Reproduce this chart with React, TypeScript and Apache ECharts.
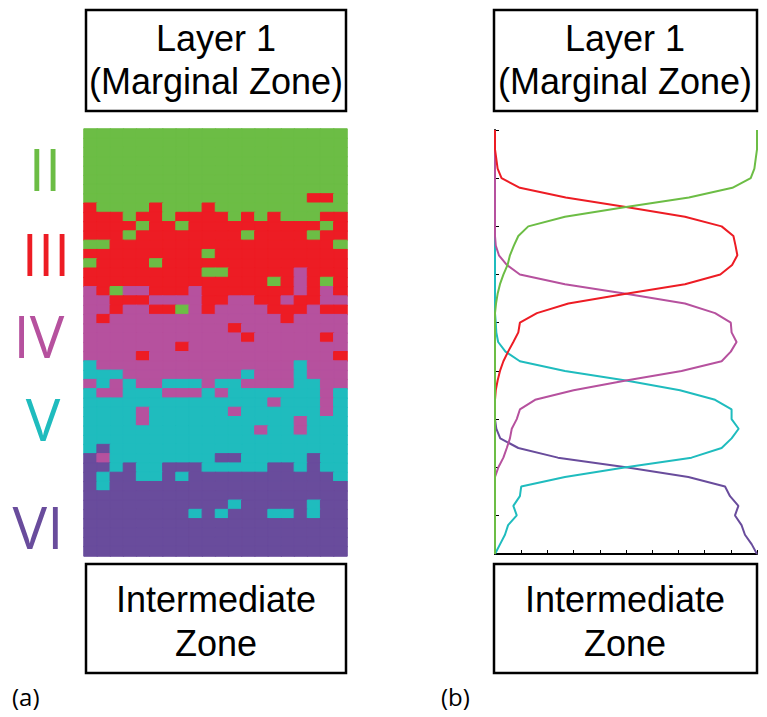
import React, { useEffect, useRef } from "react";
import * as echarts from "echarts";

// Layer classes: 2 = II, 3 = III, 4 = IV, 5 = V, 6 = VI
const layerNames = ["II", "III", "IV", "V", "VI"];
const layerValues = [2, 3, 4, 5, 6];
const layerColors = ["#6cbd45", "#ed1c24", "#b6519e", "#1fbcbe", "#694c9c"];

// Left panel grid (row 0 = top), 20 columns per row
const heatRows = [
  "22222222222222222222",
  "22222222222222222222",
  "22222222222222222222",
  "22222222222222222222",
  "22222222222222222222",
  "22222222222222222222",
  "22222222222222222222",
  "22222222222222222332",
  "32222322232222222222",
  "33323323333232322233",
  "33332332333333333323",
  "33323333333323333233",
  "22333333333333333332",
  "33333333323333333333",
  "23333233333333333333",
  "33333333322333334333",
  "33333333333333234323",
  "43244333433333334343",
  "44333444433443343344",
  "44344332434444333433",
  "43444444444444434444",
  "44444444444344444444",
  "44444444444434444434",
  "44444443444444444444",
  "44443444444444444443",
  "54444444444444445444",
  "55544444444454445444",
  "45454455545544445544",
  "54455544454555555545",
  "55555555555555455545",
  "55554555555455555545",
  "55554555555555554555",
  "55555555555554554555",
  "55555555555555555555",
  "56555555555555555555",
  "64555555556655555655",
  "66565566655555665655",
  "65665565666666666665",
  "65666666666666666666",
  "66666666666666666666",
  "66666666666566666566",
  "66666666565666556566",
  "66666666666666666666",
  "66666666666666666666",
  "66666666666666666666",
  "66666666666666666666",
];

// Right panel: probability of each layer at depth index 0..44 (top to bottom)
const probII = [
  1.0, 1.0, 1.0, 0.995, 0.99, 0.976, 0.906, 0.74, 0.5, 0.267, 0.127, 0.089, 0.072,
  0.057, 0.048, 0.032, 0.019, 0.01, 0.004, 0, 0, 0, 0, 0, 0, 0, 0, 0, 0, 0, 0, 0, 0,
  0, 0, 0, 0, 0, 0, 0, 0, 0, 0, 0, 0,
];
const probIII = [
  0, 0, 0, 0.005, 0.01, 0.025, 0.095, 0.27, 0.5, 0.725, 0.865, 0.91, 0.918, 0.925,
  0.905, 0.86, 0.725, 0.5, 0.28, 0.16, 0.095, 0.089, 0.07, 0.05, 0.032, 0.019, 0.01,
  0.003, 0, 0, 0, 0, 0, 0, 0, 0, 0, 0, 0, 0, 0, 0, 0, 0, 0,
];
const probIV = [
  0, 0, 0, 0, 0, 0, 0, 0, 0, 0, 0, 0, 0.003, 0.015, 0.045, 0.095, 0.267, 0.5, 0.725,
  0.84, 0.9, 0.903, 0.922, 0.9, 0.865, 0.712, 0.5, 0.3, 0.153, 0.095, 0.083, 0.064,
  0.057, 0.045, 0.032, 0.013, 0, 0, 0, 0, 0, 0, 0, 0, 0,
];
const probV = [
  0, 0, 0, 0, 0, 0, 0, 0, 0, 0, 0, 0, 0, 0, 0, 0, 0, 0, 0, 0, 0.003, 0.005, 0.012,
  0.04, 0.095, 0.267, 0.5, 0.706, 0.84, 0.903, 0.903, 0.93, 0.903, 0.865, 0.75, 0.5,
  0.267, 0.1, 0.095, 0.07, 0.083, 0.05, 0.038, 0.019, 0,
];
const probVI = [
  0, 0, 0, 0, 0, 0, 0, 0, 0, 0, 0, 0, 0, 0, 0, 0, 0, 0, 0, 0, 0, 0, 0, 0, 0, 0, 0, 0,
  0, 0, 0, 0.005, 0.02, 0.089, 0.24, 0.5, 0.738, 0.878, 0.897, 0.929, 0.916, 0.941,
  0.954, 0.98, 1.0,
];

const topTitle = ["Layer 1", "(Marginal Zone)"];
const bottomTitle = ["Intermediate", "Zone"];
const panelTags = ["(a)", "(b)"];

export default function App() {
  const ref = useRef<HTMLDivElement>(null);

  useEffect(() => {
    if (!ref.current) return;
    const chart = echarts.init(ref.current, null, { renderer: "svg" });

    const heatData: any[] = [];
    heatRows.forEach((row, r) => {
      for (let c = 0; c < row.length; c++) {
        const v = Number(row[c]);
        const color = layerColors[layerValues.indexOf(v)];
        heatData.push({
          value: [c, r, v],
          itemStyle: { borderColor: color, borderWidth: 1 },
        });
      }
    });
    const nCols = heatRows[0].length;

    const sans = "Liberation Sans";
    const open = "Open Sans";

    const box = (x: number, y: number, w: number, h: number) => ({
      type: "rect",
      shape: { x, y, width: w, height: h },
      style: { fill: "none", stroke: "#000", lineWidth: 2.5 },
    });
    const txt = (text: string, x: number, y: number, size: number, color: string, font: string, align = "center") => ({
      type: "text",
      x,
      y,
      style: {
        text,
        fill: color,
        fontSize: size,
        fontFamily: font,
        textAlign: align,
        textVerticalAlign: "middle",
      },
    });

    const labelPos = [
      [45, 168],
      [46, 253],
      [39, 335],
      [43, 418],
      [38, 526],
    ];

    const seriesOrder = [4, 3, 2, 1, 0];
    const probs = [probII, probIII, probIV, probV, probVI];

    chart.setOption({
      animation: false,
      backgroundColor: "#fff",
      grid: [
        { left: 84, top: 129, width: 263, height: 427 },
        { left: 495, top: 130, width: 262, height: 424 },
      ],
      xAxis: [
        {
          gridIndex: 0,
          type: "category",
          data: Array.from({ length: nCols }, (_, i) => String(i)),
          show: false,
        },
        {
          gridIndex: 1,
          type: "value",
          position: "bottom",
          min: 0,
          max: 1,
          interval: 0.1,
          axisLine: { show: true, onZero: false, lineStyle: { color: "#000", width: 2 } },
          axisTick: { show: true, inside: true, length: 4, lineStyle: { color: "#000", width: 1 } },
          axisLabel: { show: false },
          splitLine: { show: false },
        },
      ],
      yAxis: [
        {
          gridIndex: 0,
          type: "category",
          inverse: true,
          data: heatRows.map((_, i) => String(i)),
          show: false,
        },
        {
          gridIndex: 1,
          type: "value",
          position: "left",
          inverse: true,
          min: 0,
          max: 44,
          interval: 5,
          axisLine: { show: true, onZero: false, lineStyle: { color: "#000", width: 2 } },
          axisTick: { show: true, inside: true, length: 4, lineStyle: { color: "#000", width: 1 } },
          axisLabel: { show: false },
          splitLine: { show: false },
        },
      ],
      visualMap: {
        type: "piecewise",
        show: false,
        seriesIndex: 0,
        dimension: 2,
        pieces: layerValues.map((v, i) => ({ value: v, color: layerColors[i] })),
      },
      series: [
        {
          type: "heatmap",
          xAxisIndex: 0,
          yAxisIndex: 0,
          data: heatData,
        },
        ...seriesOrder.map((k) => ({
          type: "line",
          name: layerNames[k],
          xAxisIndex: 1,
          yAxisIndex: 1,
          data: probs[k].map((v, i) => [v, i]),
          showSymbol: false,
          symbol: "none",
          lineStyle: { color: layerColors[k], width: 2 },
          itemStyle: { color: layerColors[k] },
        })),
      ],
      graphic: [
        box(86, 10, 260, 101),
        box(494, 10, 263, 101),
        box(86, 564, 260, 109),
        box(494, 564, 263, 109),
        txt(topTitle[0], 216, 38, 36, "#000", sans),
        txt(topTitle[1], 216, 81, 36, "#000", sans),
        txt(topTitle[0], 625, 38, 36, "#000", sans),
        txt(topTitle[1], 625, 81, 36, "#000", sans),
        txt(bottomTitle[0], 216, 599, 36, "#000", sans),
        txt(bottomTitle[1], 216, 643, 36, "#000", sans),
        txt(bottomTitle[0], 625, 599, 36, "#000", sans),
        txt(bottomTitle[1], 625, 643, 36, "#000", sans),
        ...layerNames.map((n, i) => txt(n, labelPos[i][0], labelPos[i][1], 58, layerColors[i], open)),
        txt(panelTags[0], 12, 696, 24, "#000", open, "left"),
        txt(panelTags[1], 441, 696, 24, "#000", open, "left"),
      ],
    });

    return () => chart.dispose();
  }, []);

  return (
    <div
      ref={ref}
      style={{ position: "absolute", left: 0, top: 0, width: 767, height: 717 }}
    />
  );
}
